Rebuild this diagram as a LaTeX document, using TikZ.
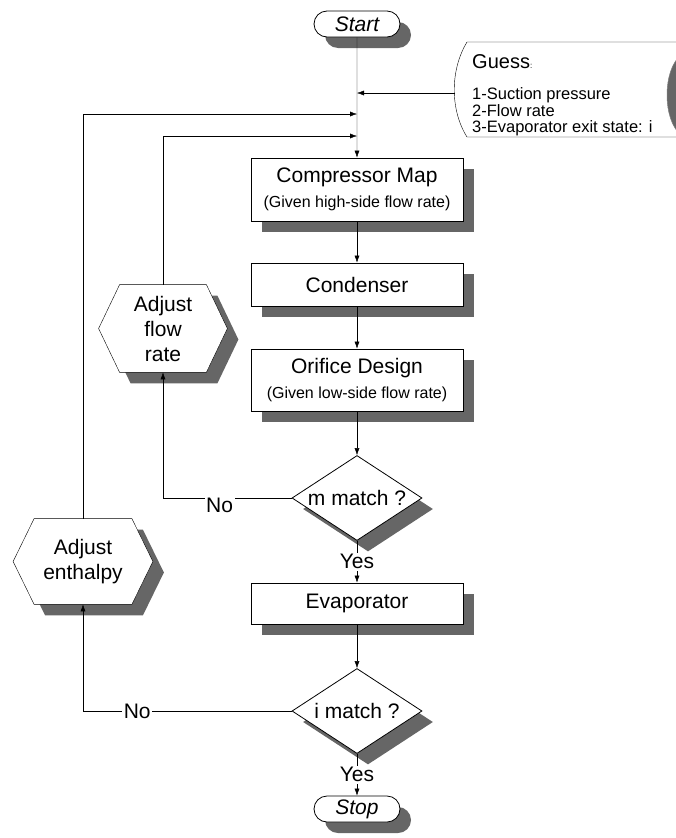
\documentclass[tikz,border=0pt]{standalone}
\usepackage{fontspec}
\setmainfont{Liberation Sans}
\usetikzlibrary{shapes.geometric,shapes.misc,shadows,backgrounds,arrows.meta}

\definecolor{shadowgray}{HTML}{666666}
\newcommand{\mainsize}{\fontsize{21}{25}\selectfont}
\newcommand{\smallsize}{\fontsize{16}{19}\selectfont}

\begin{document}
\begin{tikzpicture}[x=1pt, y=-1pt, >={Latex[length=7pt, width=5pt]},
	line width=0.8pt, font=\mainsize,
	shade/.style={drop shadow={shadow xshift=11pt, shadow yshift=-11pt,
		fill=shadowgray, opacity=1}},
	proc/.style={rectangle, draw, fill=white, shade, minimum width=212pt,
		align=center, inner sep=0pt},
	term/.style={rounded rectangle, draw, fill=white, shade, inner sep=0pt,
		minimum width=86pt, minimum height=26pt, font=\mainsize\itshape},
	test/.style={diamond, draw, fill=white, shade, aspect=1.5, inner sep=0pt,
		minimum width=130pt, minimum height=85pt},
	adjust/.style={rectangle, align=center, inner sep=0pt},
	lbl/.style={fill=white, inner sep=1.5pt}]
	\useasboundingbox (0,0) rectangle (676,838);

	\node[term] (start) at (357,24) {Start};
	\node[proc, minimum height=63pt] (comp) at (357,189.5)
		{Compressor Map\\{\smallsize (Given high-side flow rate)}};
	\node[proc, minimum height=43pt] (cond) at (357,284.5) {Condenser};
	\node[proc, minimum height=62pt] (orif) at (357,380)
		{Orifice Design\\{\smallsize (Given low-side flow rate)}};
	\node[test] (mm) at (357,498) {m match ?};
	\node[proc, minimum height=41pt] (evap) at (357,603.5) {Evaporator};
	\node[test] (im) at (357,711) {i match ?};
	\node[term] (stop) at (357,809) {Stop};

	\node[adjust, minimum width=128pt, minimum height=87pt] (flow)
		at (163,328.5) {Adjust\\flow\\rate};
	\node[adjust, minimum width=139pt, minimum height=85pt] (enth)
		at (83,561.5) {Adjust\\enthalpy};
	\begin{pgfonlayer}{background}
		\foreach \n in {flow,enth}
			\draw[fill=white, shade] ([xshift=21pt]\n.north west)
				-- ([xshift=-21pt]\n.north east) -- (\n.east)
				-- ([xshift=-21pt]\n.south east)
				-- ([xshift=21pt]\n.south west) -- (\n.west) -- cycle;
	\end{pgfonlayer}

	\draw[fill=white] (700,42) -- (467,42) .. controls (450,70) and (450,110)
		.. (467,137) -- (700,137);
	\draw[fill=shadowgray, draw=gray, line width=0.5pt] (688,95)
		ellipse [x radius=21, y radius=42];
	\node[anchor=north west, align=left, inner sep=0pt,
		font=\fontsize{16.5}{16.5}\selectfont] (guess) at (472,54)
		{{\fontsize{20}{20}\selectfont Guess}{\fontsize{8}{8}\selectfont :}\\[15pt]
		1-Suction pressure\\2-Flow rate\\3-Evaporator exit state: i};

	\coordinate (gin) at (455,93);
	\coordinate (j0) at (357,93);
	\coordinate (j1) at (357,114);
	\coordinate (j2) at (357,136);

	\draw[->] (start) -- (comp);
	\draw[->] (gin) -- (j0);
	\draw[->] (comp) -- (cond);
	\draw[->] (cond) -- (orif);
	\draw[->] (orif) -- (mm);
	\draw[->] (mm) -- node[lbl] {Yes} (evap);
	\draw[->] (evap) -- (im);
	\draw[->] (im) -- node[lbl] {Yes} (stop);

	\draw[->] (mm.west) -| node[lbl, pos=0.28, yshift=-7.5pt] {No} (flow.south);
	\draw[->] (im.west) -| node[lbl, pos=0.37] {No} (enth.south);
	\draw[->] (flow.north) |- (j2);
	\draw[->] (enth.north) |- (j1);
\end{tikzpicture}
\end{document}
